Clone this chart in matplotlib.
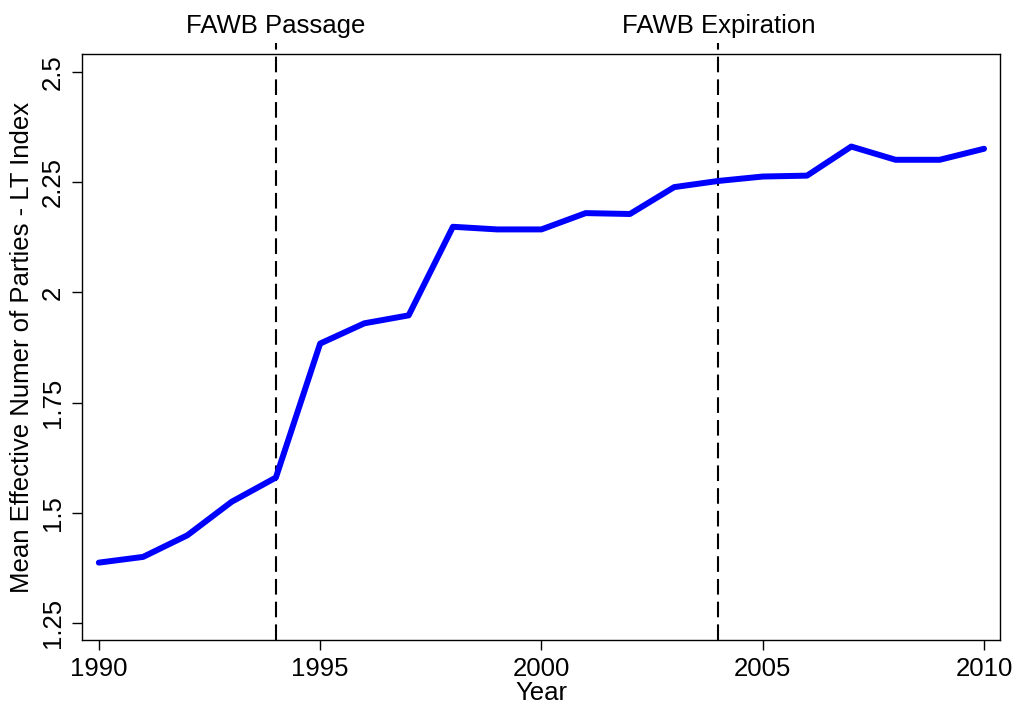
import matplotlib
matplotlib.use("Agg")
from matplotlib import pyplot as plt

plt.rcParams['font.family'] = ['Liberation Sans', 'DejaVu Sans']

years = list(range(1990, 2011))
lt_index = [1.387, 1.400, 1.449, 1.525, 1.580, 1.884, 1.930, 1.948, 2.149, 2.143,
            2.143, 2.180, 2.178, 2.239, 2.253, 2.263, 2.265, 2.331, 2.301, 2.301, 2.326]

events = [1994, 2004]
event_labels = ["FAWB Passage", "FAWB Expiration"]

yticks = [1.25, 1.5, 1.75, 2, 2.25, 2.5]
ytick_labels = ["1.25", "1.5", "1.75", "2", "2.25", "2.5"]
xticks = [1990, 1995, 2000, 2005, 2010]

fig = plt.figure(figsize=(10.29, 7.19), dpi=100)
ax = fig.add_axes([0.0797, 0.1099, 0.8921, 0.815])

ax.plot(years, lt_index, color='#0000ff', linewidth=4.3, solid_capstyle='round', zorder=3)

for ev, lab in zip(events, event_labels):
    ax.axvline(ev, ymin=0, ymax=1.018, color='black', linewidth=1.5,
               linestyle=(0, (7.5, 3.4)), clip_on=False, zorder=2)
    ax.text(ev, 1.036, lab, transform=ax.get_xaxis_transform(), ha='center',
            va='baseline', fontsize=18.5)

ax.set_xlim(1989.62, 2010.36)
ax.set_ylim(1.2115, 2.541)
ax.set_xticks(xticks)
ax.set_yticks(yticks)
ax.set_yticklabels(ytick_labels, rotation=90, va='center')
ax.tick_params(direction='out', length=7.5, width=1, labelsize=18.5, pad=5)

for s in ax.spines.values():
    s.set_linewidth(1)

ax.set_xlabel('Year', fontsize=18.5, labelpad=0)
ax.set_ylabel('Mean Effective Numer of Parties - LT Index', fontsize=18.5, labelpad=5)

fig.savefig('out.png', dpi=100)
